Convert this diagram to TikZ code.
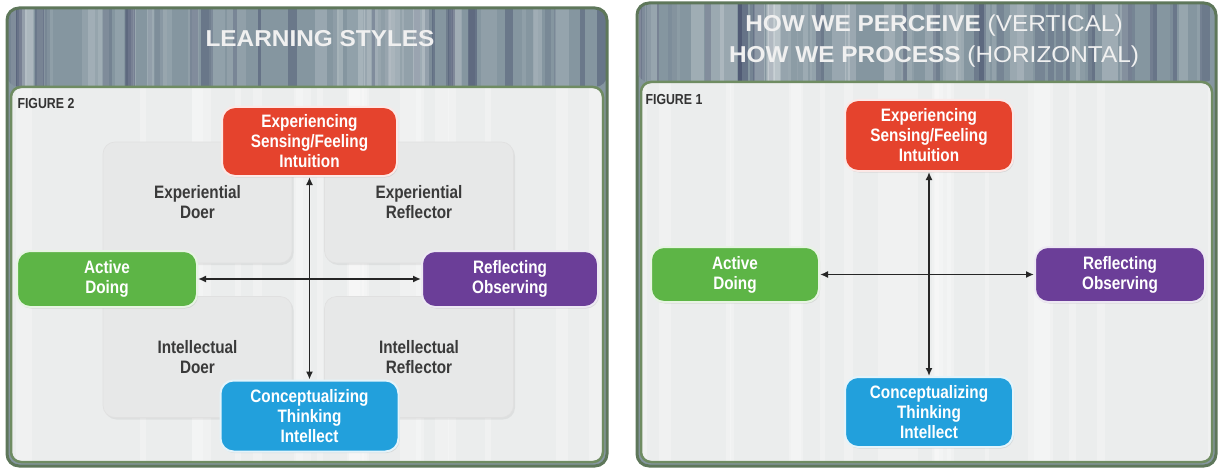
\documentclass[tikz,border=0pt]{standalone}
\usepackage{fontspec}
\setmainfont{Liberation Sans}
\newfontfamily\condfont[FakeStretch=0.85]{Liberation Sans}
\newfontfamily\titlefont[FakeStretch=1.06]{Liberation Sans}
\usetikzlibrary{arrows.meta,shadows}
\definecolor{framegreen}{HTML}{5E775A}
\definecolor{panelgreen}{HTML}{6F8C62}
\definecolor{panelfill}{HTML}{EBEDED}
\definecolor{headblue}{HTML}{8596A0}
\definecolor{boxred}{HTML}{E5432D}
\definecolor{boxgreen}{HTML}{5DB546}
\definecolor{boxpurple}{HTML}{6B3E98}
\definecolor{boxblue}{HTML}{22A0DC}
\definecolor{quadfill}{HTML}{E7E8E8}
\definecolor{quadtext}{HTML}{3A3A3A}
% frame, textured header and inner panel: x1,y1,x2,y2,header bottom
\newcommand{\tikzPanel}[5]{
  \fill[headblue,rounded corners=12pt] (#1,#2) rectangle (#3,#4);
  \begin{scope}
    \clip[rounded corners=12pt] (#1,#2) rectangle (#3,#5);
    \foreach \i in {1,...,40}{
      \pgfmathsetmacro{\sx}{#1+rnd*(#3-#1)}
      \pgfmathsetmacro{\sw}{3+rnd*16}
      \pgfmathsetmacro{\so}{0.05+rnd*0.18}
      \fill[white,opacity=\so] (\sx,#2) rectangle (\sx+\sw,#5);
    }
    \foreach \i in {1,...,30}{
      \pgfmathsetmacro{\sx}{#1+rnd*(#3-#1)}
      \pgfmathsetmacro{\sw}{2+rnd*9}
      \pgfmathsetmacro{\so}{0.05+rnd*0.18}
      \fill[black!80!blue,opacity=\so] (\sx,#2) rectangle (\sx+\sw,#5);
    }
  \end{scope}
  \fill[panelfill,rounded corners=10pt] (#1+4,#5) rectangle (#3-4,#4-4);
  \begin{scope}
    \clip[rounded corners=10pt] (#1+4,#5) rectangle (#3-4,#4-4);
    \foreach \i in {1,...,20}{
      \pgfmathsetmacro{\sx}{#1+rnd*(#3-#1)}
      \pgfmathsetmacro{\sw}{4+rnd*18}
      \fill[white,opacity=0.25] (\sx,#5) rectangle (\sx+\sw,#4);
    }
  \end{scope}
  \draw[panelgreen,line width=2.5pt,rounded corners=10pt] (#1+4,#5) rectangle (#3-4,#4-4);
  \draw[framegreen,line width=3pt,rounded corners=12pt] (#1,#2) rectangle (#3,#4);
}

\begin{document}
\begin{tikzpicture}[x=1pt,y=-1pt,
  titletext/.style={text=white!94!black,font=\titlefont\fontsize{23}{31}\selectfont\bfseries,align=center},
  figlabel/.style={anchor=west,text=black!80,font=\condfont\bfseries\fontsize{14.5}{16}\selectfont},
  cbox/.style={rectangle,rounded corners=13pt,line width=2pt,align=center,text=white,inner sep=2pt,
    font=\condfont\bfseries\fontsize{18}{20}\selectfont,
    drop shadow={opacity=0.2,shadow xshift=1pt,shadow yshift=-1.5pt}},
  quad/.style={rectangle,rounded corners=12pt,fill=quadfill,draw=black!12,line width=0.6pt,
    align=center,text=quadtext,font=\condfont\bfseries\fontsize{18}{20}\selectfont,
    minimum width=189,minimum height=121,
    drop shadow={opacity=0.12,shadow xshift=1.5pt,shadow yshift=-2pt}},
  arr/.style={{Latex[length=8pt,width=7pt]}-{Latex[length=8pt,width=7pt]},line width=1.8pt,black!85}]

  \useasboundingbox (0,0) rectangle (1222,468);
  \pgfmathsetseed{11}

  %panels
  \tikzPanel{7}{8}{607}{466}{87}
  \tikzPanel{637}{3}{1216}{466}{82}

  %left: learning styles
  \node[titletext] (titleL) at (320,39) {LEARNING STYLES};
  \node[figlabel] (figL) at (14,104) {FIGURE 2};

  \node[quad] (edoer) at (197.5,202.5) {Experiential\\Doer};
  \node[quad] (erefl) at (419,202.5) {Experiential\\Reflector};
  \node[quad] (idoer) at (197.5,357) {Intellectual\\Doer};
  \node[quad] (irefl) at (419,357) {Intellectual\\Reflector};

  \node[cbox,fill=boxred,draw=boxred!12!white,minimum width=175,minimum height=69] (expL) at (309.5,141.5) {Experiencing\\Sensing/Feeling\\Intuition};
  \node[cbox,fill=boxgreen,draw=boxgreen!15!white,minimum width=180,minimum height=56] (actL) at (107,279) {Active\\Doing};
  \node[cbox,fill=boxpurple,draw=boxpurple!12!white,minimum width=176,minimum height=56] (refL) at (510,279) {Reflecting\\Observing};
  \node[cbox,fill=boxblue,draw=boxblue!12!white,minimum width=178,minimum height=71] (conL) at (309.5,416) {Conceptualizing\\Thinking\\Intellect};

  \draw[arr] (expL) -- (conL);
  \draw[arr] (actL) -- (refL);

  %right: perceive / process
  \node[titletext] (titleR) at (934,41) {HOW WE PERCEIVE {\mdseries(VERTICAL)}\\HOW WE PROCESS {\mdseries(HORIZONTAL)}};
  \node[figlabel] (figR) at (642,100) {FIGURE 1};

  \node[cbox,fill=boxred,draw=boxred!12!white,minimum width=168,minimum height=71] (expR) at (929,135.5) {Experiencing\\Sensing/Feeling\\Intuition};
  \node[cbox,fill=boxgreen,draw=boxgreen!15!white,minimum width=168,minimum height=55] (actR) at (735,274.5) {Active\\Doing};
  \node[cbox,fill=boxpurple,draw=boxpurple!12!white,minimum width=170,minimum height=55] (refR) at (1120,274.5) {Reflecting\\Observing};
  \node[cbox,fill=boxblue,draw=boxblue!12!white,minimum width=168,minimum height=70] (conR) at (929,412) {Conceptualizing\\Thinking\\Intellect};

  \draw[arr] (expR) -- (conR);
  \draw[arr] (actR) -- (refR);

\end{tikzpicture}
\end{document}
